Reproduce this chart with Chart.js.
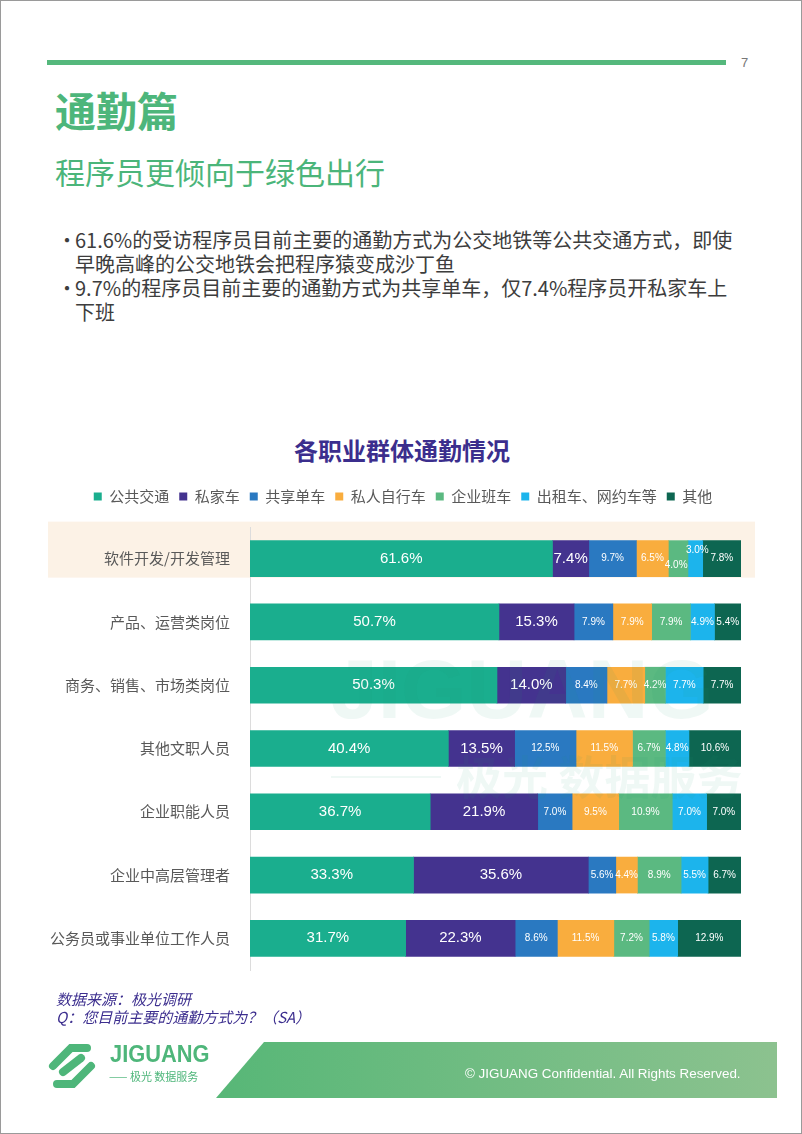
<!DOCTYPE html>
<html>
<head>
<meta charset="utf-8">
<script src="https://cdn.jsdelivr.net/npm/chart.js@4.4.1/dist/chart.umd.min.js"></script>
<style>
  html, body { margin: 0; padding: 0; background: #fff; }
  #page { position: relative; width: 800px; height: 1132px; border: 1px solid #9a9a9a; overflow: hidden;
          font-family: "Noto Sans CJK SC", "Noto Sans", sans-serif; }
  .abs { position: absolute; white-space: nowrap; }
  #topline { left: 46px; top: 59px; width: 679px; height: 5px; background: #55b87c; }
  #pagenum { left: 740px; top: 54px; font: 13px "Liberation Sans", sans-serif; color: #777; }
  #title { left: 54px; top: 80px; font-size: 41px; font-weight: 700; color: #4db67b; line-height: 56px; }
  #subtitle { left: 54px; top: 149px; font-size: 30px; color: #4bb57a; line-height: 42px; }
  .bl { font-size: 20px; color: #3d3d3d; line-height: 24px; }
  #ctitle { left: 0; width: 802px; text-align: center; top: 431px; font-size: 24px; font-weight: 700; color: #3b2e8d; }
  #chartbox { left: 0; top: 470px; width: 802px; height: 520px; }
  .src { left: 55px; font-size: 15px; font-style: italic; color: #3d2f8f; line-height: 18px; }
  #band { left: 0; top: 1041px; width: 802px; height: 56px; }
  #copy { left: 464px; top: 1065px; font: 13.4px "Liberation Sans", sans-serif; color: #fff; }
  #logo1 { left: 109px; top: 1040px; font: bold 23px "Liberation Sans", sans-serif; color: #4eb67a; transform: scaleX(0.95); transform-origin: left; }
  #logo2 { left: 108px; top: 1067px; font-size: 11px; color: #4eb67a; }
  .wm { color: rgba(30, 160, 110, 0.07); font-weight: 700; }
</style>
</head>
<body>
<div id="page">
  <div class="abs" id="topline"></div>
  <div class="abs" id="pagenum">7</div>
  <div class="abs" id="title">通勤篇</div>
  <div class="abs" id="subtitle">程序员更倾向于绿色出行</div>

  <div class="abs bl" style="left:56px;top:227px;">•</div>
  <div class="abs bl" style="left:74px;top:227px;">61.6%的受访程序员目前主要的通勤方式为公交地铁等公共交通方式，即使</div>
  <div class="abs bl" style="left:74px;top:251px;">早晚高峰的公交地铁会把程序猿变成沙丁鱼</div>
  <div class="abs bl" style="left:56px;top:275px;">•</div>
  <div class="abs bl" style="left:74px;top:275px;">9.7%的程序员目前主要的通勤方式为共享单车，仅7.4%程序员开私家车上</div>
  <div class="abs bl" style="left:74px;top:299px;">下班</div>

  <div class="abs" id="ctitle">各职业群体通勤情况</div>
  <div class="abs" id="chartbox"><canvas id="commuteChart" width="802" height="520"></canvas></div>

  <div class="abs wm" style="left:330px;top:640px;font:bold 84px 'Liberation Sans',sans-serif;">JIGUANG</div>
  <div class="abs wm" style="left:455px;top:740px;font-size:46px;">极光 数据服务</div>
  <div class="abs" style="left:330px;top:775px;width:110px;height:2px;background:rgba(30,160,110,0.07);"></div>

  <div class="abs src" style="top:989px;">数据来源：极光调研</div>
  <div class="abs src" style="top:1007px;">Q：您目前主要的通勤方式为？（SA）</div>

  <canvas class="abs" id="band" width="802" height="56"></canvas>
  <div class="abs" id="copy">© JIGUANG Confidential. All Rights Reserved.</div>
  <canvas class="abs" id="logoIcon" width="50" height="44" style="left:46px;top:1043px;"></canvas>
  <div class="abs" id="logo1">JIGUANG</div>
  <div class="abs" id="logo2">—— 极光 数据服务</div>
</div>

<script>
// categories (top to bottom)
const groups = ["软件开发/开发管理", "产品、运营类岗位", "商务、销售、市场类岗位", "其他文职人员",
                "企业职能人员", "企业中高层管理者", "公务员或事业单位工作人员"];
const modes = ["公共交通", "私家车", "共享单车", "私人自行车", "企业班车", "出租车、网约车等", "其他"];
const modeColors = ["#1aae8e", "#44338f", "#2a79c1", "#f9ad3e", "#5bb981", "#1cb4ec", "#0d6651"];

// share (%) of each commute mode, one value per group
const publicTransit = [61.6, 50.7, 50.3, 40.4, 36.7, 33.3, 31.7];
const privateCar    = [7.4, 15.3, 14.0, 13.5, 21.9, 35.6, 22.3];
const sharedBike    = [9.7, 7.9, 8.4, 12.5, 7.0, 5.6, 8.6];
const ownBike       = [6.5, 7.9, 7.7, 11.5, 9.5, 4.4, 11.5];
const shuttleBus    = [4.0, 7.9, 4.2, 6.7, 10.9, 8.9, 7.2];
const taxi          = [3.0, 4.9, 7.7, 4.8, 7.0, 5.5, 5.8];
const other         = [7.8, 5.4, 7.7, 10.6, 7.0, 6.7, 12.9];

const seriesValues = [publicTransit, privateCar, sharedBike, ownBike, shuttleBus, taxi, other];

// highlight band behind the first row (drawn before the axis labels)
const highlightRow = {
    id: "highlightRow",
    beforeDraw(chart) {
        const ctx = chart.ctx;
        const y = chart.scales.y.getPixelForValue(0);
        ctx.save();
        ctx.fillStyle = "#fcf2e6";
        ctx.fillRect(47, y - 37, 707, 56);
        ctx.restore();
    }
};

// value labels inside the segments
const segmentLabels = {
    id: "segmentLabels",
    afterDatasetsDraw(chart) {
        const ctx = chart.ctx;
        ctx.save();
        ctx.textAlign = "center";
        ctx.textBaseline = "middle";
        ctx.fillStyle = "#ffffff";
        chart.data.datasets.forEach((ds, di) => {
            const meta = chart.getDatasetMeta(di);
            ctx.font = (di < 2 ? "15px" : "10px") + ' "Liberation Sans", Arial, sans-serif';
            meta.data.forEach((bar, i) => {
                let x = (bar.x + bar.base) / 2;
                let y = bar.y;
                // the two thin segments of row 1 are staggered
                if (i === 0 && di === 4) { y += 7; x -= 2; }
                if (i === 0 && di === 5) { y -= 8; x += 2; }
                ctx.fillText(ds.data[i].toFixed(1) + "%", x, y);
            });
        });
        ctx.restore();
    }
};

// fixed legend height, and legend shifted right to sit over the page centre
const legendTweak = {
    id: "legendTweak",
    beforeInit(chart) {
        const lg = chart.legend;
        const fit = lg.fit;
        lg.fit = function () {
            fit.call(lg);
            lg.height = 48;
        };
        const draw = lg.draw;
        lg.draw = function () {
            lg.ctx.save();
            lg.ctx.translate(32, 0);
            draw.call(lg);
            lg.ctx.restore();
        };
    }
};

new Chart(document.getElementById("commuteChart"), {
    type: "bar",
    data: {
        labels: groups,
        datasets: modes.map((m, k) => ({
            label: m,
            data: seriesValues[k],
            backgroundColor: modeColors[k],
            borderWidth: 0,
            barThickness: 36
        }))
    },
    options: {
        indexAxis: "y",
        responsive: false,
        animation: false,
        layout: { padding: { top: 8, right: 62, bottom: 1, left: 0 } },
        scales: {
            x: { stacked: true, min: 0, max: 100, display: false },
            y: {
                stacked: true,
                grid: { display: false },
                border: { display: true, color: "#dcdcdc" },
                ticks: {
                    color: "#595959",
                    padding: 12,
                    font: { family: '"Noto Sans CJK SC", sans-serif', size: 15 }
                },
                afterFit(scale) { scale.width = 249; }
            }
        },
        plugins: {
            legend: {
                position: "top",
                labels: {
                    boxWidth: 8,
                    boxHeight: 8,
                    padding: 10,
                    color: "#595959",
                    font: { family: '"Noto Sans CJK SC", sans-serif', size: 15 }
                }
            },
            tooltip: { enabled: false }
        }
    },
    plugins: [highlightRow, segmentLabels, legendTweak]
});

// footer band
(function () {
    const c = document.getElementById("band").getContext("2d");
    const g = c.createLinearGradient(215, 0, 776, 0);
    g.addColorStop(0, "#57b777");
    g.addColorStop(1, "#8cc28f");
    c.fillStyle = g;
    c.beginPath();
    c.moveTo(263, 0);
    c.lineTo(776, 0);
    c.lineTo(776, 56);
    c.lineTo(215, 56);
    c.closePath();
    c.fill();

    const l = document.getElementById("logoIcon").getContext("2d");
    l.strokeStyle = "#4eb67a";
    l.lineWidth = 8;
    l.lineCap = "round";
    l.beginPath(); l.moveTo(6, 22); l.lineTo(24, 4); l.lineTo(40, 4); l.stroke();
    l.beginPath(); l.moveTo(10, 40); l.lineTo(26, 40); l.lineTo(44, 22); l.stroke();
    l.beginPath(); l.moveTo(16, 28); l.lineTo(34, 14); l.stroke();
})();
</script>
</body>
</html>
